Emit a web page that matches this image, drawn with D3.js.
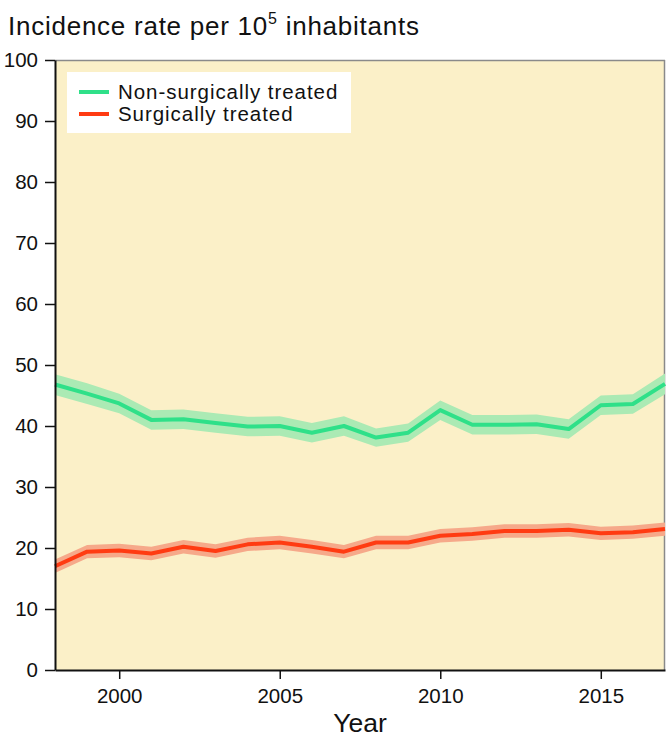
<!DOCTYPE html>
<html><head><meta charset="utf-8">
<script src="https://cdn.jsdelivr.net/npm/d3@7"></script>
<style>body{margin:0;background:#fff}svg{display:block}text{font-family:"Liberation Sans",Arial,sans-serif;fill:#111}</style>
</head><body><svg id="c" width="667" height="740"></svg>
<script>
const years = [1998,1999,2000,2001,2002,2003,2004,2005,2006,2007,2008,2009,2010,2011,2012,2013,2014,2015,2016,2017];
const nonSurgical = [46.8,45.3,43.7,41.0,41.1,40.5,39.9,40.0,38.9,40.0,38.1,38.9,42.6,40.2,40.2,40.3,39.5,43.4,43.6,46.9];
const nonSurgicalCI = [1.7,1.7,1.6,1.6,1.6,1.6,1.6,1.6,1.6,1.6,1.5,1.5,1.6,1.6,1.6,1.6,1.6,1.6,1.6,1.7];
const surgical = [17.0,19.4,19.6,19.1,20.2,19.5,20.6,20.9,20.2,19.4,20.9,20.9,22.0,22.3,22.8,22.8,23.0,22.4,22.6,23.1];
const surgicalCI = [1.1,1.1,1.1,1.1,1.1,1.1,1.1,1.1,1.1,1.1,1.1,1.1,1.1,1.1,1.1,1.1,1.1,1.1,1.1,1.1];
const xTicks = [2000,2005,2010,2015];
const yTicks = [0,10,20,30,40,50,60,70,80,90,100];
const seriesNames = ["Non-surgically treated","Surgically treated"];

const svg = d3.select("#c");
const L=55,R=665,T=60,B=670;
const x = d3.scaleLinear().domain([1998,2017]).range([L,R]);
const y = d3.scaleLinear().domain([0,100]).range([B,T]);

svg.append("rect").attr("x",L).attr("y",T).attr("width",R-L).attr("height",B-T).attr("fill","#fbf0c8");
svg.append("line").attr("x1",L).attr("x2",R).attr("y1",T+0.5).attr("y2",T+0.5).attr("stroke","#8a8a8a").attr("stroke-width",1.5);
svg.append("line").attr("x1",R-0.5).attr("x2",R-0.5).attr("y1",T).attr("y2",B).attr("stroke","#8a8a8a").attr("stroke-width",1.5);

const series = [
 {v:nonSurgical, ci:nonSurgicalCI, line:"#2fe089", band:"#abeab4"},
 {v:surgical, ci:surgicalCI, line:"#ff3b12", band:"#f6a98a"}
];
const area = d3.area().x((d,i)=>x(years[i])).y0(d=>y(d[0]-d[1])).y1(d=>y(d[0]+d[1]));
const line = d3.line().x((d,i)=>x(years[i])).y(d=>y(d));
series.forEach(s=>{
  svg.append("path").datum(s.v.map((v,i)=>[v,s.ci[i]])).attr("d",area).attr("fill",s.band);
  svg.append("path").datum(s.v).attr("d",line).attr("fill","none").attr("stroke",s.line).attr("stroke-width",4).attr("stroke-linejoin","round");
});

const ya = svg.append("g").attr("transform",`translate(${L},0)`).call(d3.axisLeft(y).tickValues(yTicks).tickSize(10).tickSizeOuter(0).tickPadding(7));
const xa = svg.append("g").attr("transform",`translate(0,${B})`).call(d3.axisBottom(x).tickValues(xTicks).tickFormat(d3.format("d")).tickSize(9).tickSizeOuter(0).tickPadding(9));
[ya,xa].forEach(a=>{
  a.select(".domain").attr("stroke","#111").attr("stroke-width",2);
  a.selectAll(".tick line").attr("stroke","#111").attr("stroke-width",1.5);
  a.selectAll(".tick text").attr("font-size",20.5).attr("fill","#111").attr("font-family","Liberation Sans, Arial, sans-serif");
});

// legend
svg.append("rect").attr("x",67).attr("y",72).attr("width",284).attr("height",61).attr("fill","#ffffff");
series.forEach((s,i)=>{
  const yy = 92 + i*22;
  svg.append("line").attr("x1",79).attr("x2",109).attr("y1",yy).attr("y2",yy).attr("stroke",s.line).attr("stroke-width",4);
  svg.append("text").attr("x",118).attr("y",yy+7).attr("font-size",20.5).attr("letter-spacing",0.95).text(seriesNames[i]);
});

const t = svg.append("text").attr("x",8).attr("y",35).attr("font-size",26).attr("letter-spacing",0.75);
t.append("tspan").text("Incidence rate per 10");
t.append("tspan").attr("font-size",16).attr("dy",-11).text("5");
t.append("tspan").attr("dy",11).text(" inhabitants");

svg.append("text").attr("x",360).attr("y",732).attr("text-anchor","middle").attr("font-size",26.5).text("Year");
</script></body></html>
